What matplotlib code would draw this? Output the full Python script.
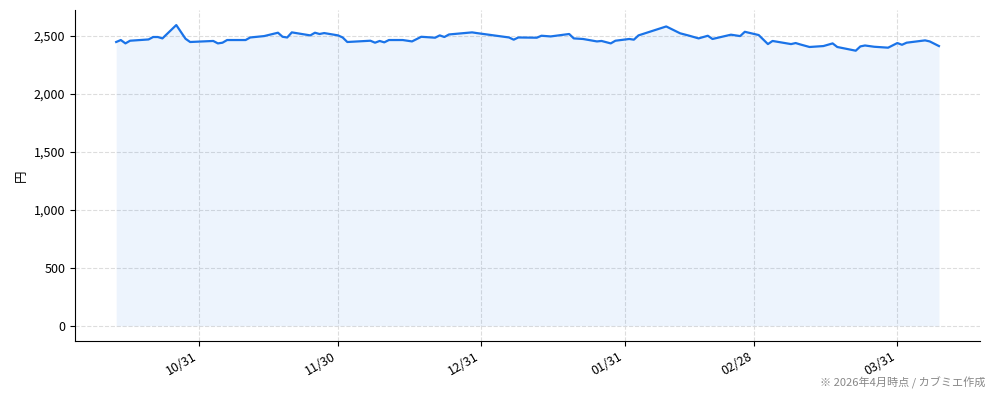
import pandas as pd
import matplotlib
matplotlib.use("Agg")
import matplotlib.pyplot as plt
import matplotlib.dates as mdates
from matplotlib.ticker import FuncFormatter

plt.rcParams['font.family'] = ['Noto Sans CJK JP', 'DejaVu Sans']

# 株価の推移
dates = [
    "2025-10-13", "2025-10-14", "2025-10-15", "2025-10-16", "2025-10-20",
    "2025-10-21", "2025-10-22", "2025-10-23", "2025-10-26", "2025-10-28",
    "2025-10-29", "2025-11-03", "2025-11-04", "2025-11-05", "2025-11-06",
    "2025-11-10", "2025-11-11", "2025-11-14", "2025-11-17", "2025-11-18",
    "2025-11-19", "2025-11-20", "2025-11-24", "2025-11-25", "2025-11-26",
    "2025-11-27", "2025-11-30", "2025-12-01", "2025-12-02", "2025-12-07",
    "2025-12-08", "2025-12-09", "2025-12-10", "2025-12-11", "2025-12-14",
    "2025-12-16", "2025-12-18", "2025-12-21", "2025-12-22", "2025-12-23",
    "2025-12-24", "2025-12-29", "2025-12-30", "2026-01-06", "2026-01-07",
    "2026-01-08", "2026-01-12", "2026-01-13", "2026-01-15", "2026-01-19",
    "2026-01-20", "2026-01-22", "2026-01-25", "2026-01-26", "2026-01-28",
    "2026-01-29", "2026-02-01", "2026-02-02", "2026-02-03", "2026-02-09",
    "2026-02-12", "2026-02-14", "2026-02-16", "2026-02-18", "2026-02-19",
    "2026-02-23", "2026-02-25", "2026-02-26", "2026-03-01", "2026-03-03",
    "2026-03-04", "2026-03-08", "2026-03-09", "2026-03-10", "2026-03-12",
    "2026-03-15", "2026-03-17", "2026-03-18", "2026-03-22", "2026-03-23",
    "2026-03-24", "2026-03-26", "2026-03-29", "2026-03-31", "2026-04-01",
    "2026-04-02", "2026-04-06", "2026-04-07", "2026-04-09",
]
prices = [
    2446, 2463, 2434, 2457, 2468,
    2489, 2489, 2477, 2592, 2474,
    2446, 2455, 2434, 2440, 2463,
    2463, 2485, 2497, 2526, 2491,
    2485, 2529, 2503, 2526, 2515,
    2523, 2503, 2485, 2446, 2457,
    2440, 2455, 2443, 2463, 2463,
    2451, 2491, 2483, 2503, 2489,
    2511, 2529, 2523, 2485, 2466,
    2485, 2483, 2500, 2494, 2515,
    2477, 2472, 2451, 2455, 2434,
    2457, 2472, 2466, 2503, 2580,
    2521, 2500, 2477, 2500, 2472,
    2509, 2497, 2534, 2506, 2428,
    2455, 2428, 2437, 2425, 2403,
    2411, 2434, 2403, 2371, 2408,
    2416, 2405, 2397, 2437, 2422,
    2440, 2460, 2451, 2411,
]

x = pd.to_datetime(dates)
color = "#1a73e8"

fig, ax = plt.subplots(figsize=(9.94, 4.01), dpi=100)
fig.subplots_adjust(left=0.0755, right=0.986, top=0.975, bottom=0.15)

ax.plot(x, prices, color=color, linewidth=1.6, zorder=3)
ax.fill_between(x, prices, color=color, alpha=0.08, linewidth=0, zorder=2)

ax.set_ylabel("円", fontsize=9)
ax.yaxis.set_major_formatter(FuncFormatter(lambda v, p: f"{v:,.0f}"))

month_ends = pd.date_range("2025-10-01", "2026-04-30", freq="ME")
ax.set_xticks(month_ends[month_ends <= x.max()])
ax.xaxis.set_major_formatter(mdates.DateFormatter("%m/%d"))
plt.setp(ax.get_xticklabels(), rotation=30, ha="right")
ax.tick_params(labelsize=9)

ax.grid(True, linestyle="--", color="#dddddd", linewidth=0.8, zorder=0)
ax.set_axisbelow(True)
ax.spines["top"].set_visible(False)
ax.spines["right"].set_visible(False)

fig.text(0.991, 0.03, "※ 2026年4月時点 / カブミエ作成", ha="right", va="bottom",
         fontsize=8, color="#888888")

fig.savefig("out.png", dpi=100)
